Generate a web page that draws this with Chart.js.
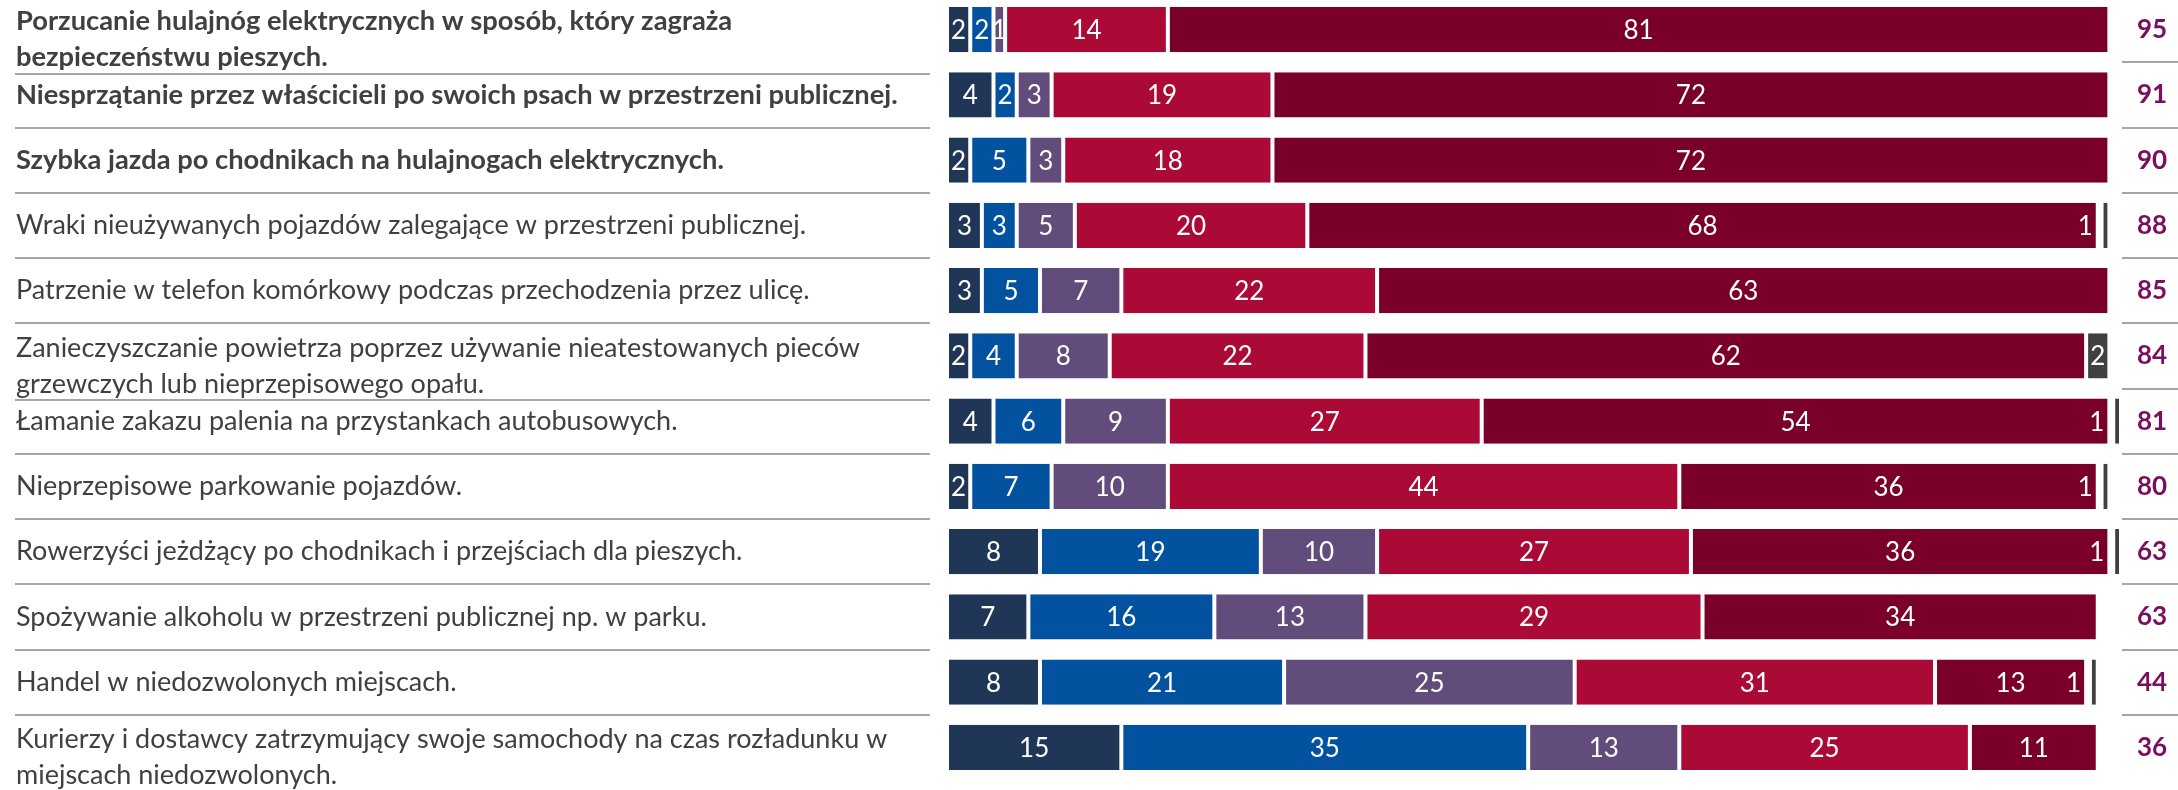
<!DOCTYPE html>
<html>
<head>
<meta charset="utf-8">
<script src="https://cdn.jsdelivr.net/npm/chart.js@4.4.1/dist/chart.umd.min.js"></script>
<style>
  html, body { margin: 0; background: #fff; overflow: hidden; }
  #wrap { position: absolute; left: 0; top: -3px; width: 2178px; height: 793px; }
</style>
</head>
<body>
<div id="wrap"><canvas id="chart"></canvas></div>
<script>
const categories = [
  ['Porzucanie hulajnóg elektrycznych w sposób, który zagraża', 'bezpieczeństwu pieszych.'],
  'Niesprzątanie przez właścicieli po swoich psach w przestrzeni publicznej.',
  'Szybka jazda po chodnikach na hulajnogach elektrycznych.',
  'Wraki nieużywanych pojazdów zalegające w przestrzeni publicznej.',
  'Patrzenie w telefon komórkowy podczas przechodzenia przez ulicę.',
  ['Zanieczyszczanie powietrza poprzez używanie nieatestowanych pieców', 'grzewczych lub nieprzepisowego opału.'],
  'Łamanie zakazu palenia na przystankach autobusowych.',
  'Nieprzepisowe parkowanie pojazdów.',
  'Rowerzyści jeżdżący po chodnikach i przejściach dla pieszych.',
  'Spożywanie alkoholu w przestrzeni publicznej np. w parku.',
  'Handel w niedozwolonych miejscach.',
  ['Kurierzy i dostawcy zatrzymujący swoje samochody na czas rozładunku w', 'miejscach niedozwolonych.'],
]

const navy = [2, 4, 2, 3, 3, 2, 4, 2, 8, 7, 8, 15]
const blue = [2, 2, 5, 3, 5, 4, 6, 7, 19, 16, 21, 35]
const purple = [1, 3, 3, 5, 7, 8, 9, 10, 10, 13, 25, 13]
const red = [14, 19, 18, 20, 22, 22, 27, 44, 27, 29, 31, 25]
const darkRed = [81, 72, 72, 68, 63, 62, 54, 36, 36, 34, 13, 11]
const gray = [0, 0, 0, 1, 0, 2, 1, 1, 1, 0, 1, 0]
const totals = [95, 91, 90, 88, 85, 84, 81, 80, 63, 63, 44, 36]

// first rows are printed in bold
const boldRows = 3
const FONT = 'Lato, "Open Sans", sans-serif'
const LINE = 36

// row texts on the left, plus the grey rules under the labels and the totals
const rowLabels = {
  id: 'rowLabels',
  afterDraw(chart) {
    const { ctx, chartArea } = chart
    const y = chart.scales.y
    ctx.save()
    ctx.fillStyle = '#404040'
    ctx.textBaseline = 'middle'
    ctx.textAlign = 'left'
    ctx.strokeStyle = '#a6a6a6'
    ctx.lineWidth = 2
    categories.forEach((label, i) => {
      const lines = [].concat(label)
      const center = y.getPixelForTick(i)
      const shift = lines.length > 1 ? 10 : 0
      const top = center + shift - ((lines.length - 1) * LINE) / 2
      ctx.font = i < boldRows ? `bold 27.3px ${FONT}` : `27px ${FONT}`
      lines.forEach((t, k) => ctx.fillText(t, 16, top + k * LINE))
      if (i === categories.length - 1) return
      const boundary = (center + y.getPixelForTick(i + 1)) / 2
      const left = Math.round(Math.max(boundary, top + (lines.length - 1) * LINE + 16))
      ctx.beginPath()
      ctx.moveTo(15, left)
      ctx.lineTo(930, left)
      ctx.moveTo(chartArea.right + 1, Math.round(boundary))
      ctx.lineTo(chart.width, Math.round(boundary))
      ctx.stroke()
    })
    ctx.restore()
  },
}

const valueLabels = {
  id: 'valueLabels',
  afterDatasetsDraw(chart) {
    const { ctx } = chart
    ctx.save()
    ctx.font = `26px ${FONT}`
    ctx.fillStyle = '#ffffff'
    ctx.textBaseline = 'middle'
    chart.data.datasets.forEach((ds, di) => {
      chart.getDatasetMeta(di).data.forEach((bar, i) => {
        const v = ds.data[i]
        if (!v) return
        const text = String(v)
        const w = Math.abs(bar.x - bar.base)
        if (ds.labelBefore && ctx.measureText(text).width > w) {
          ctx.textAlign = 'right'
          ctx.fillText(text, Math.min(bar.x, bar.base) - 5, bar.y + 1)
        } else {
          ctx.textAlign = 'center'
          ctx.fillText(text, (bar.x + bar.base) / 2, bar.y + 1)
        }
      })
    })
    ctx.restore()
  },
}

// labels may hang over the row edges, so the axes keep no extra room for them
const noPadding = (s, width) => {
  s.width = width
  s.paddingTop = 0
  s.paddingBottom = 0
}

const series = [
  { data: navy, color: '#1f3657' },
  { data: blue, color: '#03529f' },
  { data: purple, color: '#624c7b' },
  { data: red, color: '#ab0a36' },
  { data: darkRed, color: '#7a0029' },
  { data: gray, color: '#404040', labelBefore: true },
]

new Chart(document.getElementById('chart'), {
  type: 'bar',
  data: {
    labels: categories,
    datasets: series.map((s) => ({
      data: s.data,
      backgroundColor: s.color,
      borderColor: '#ffffff',
      borderWidth: (c) =>
        s.labelBefore && c.raw <= 1
          ? { left: 6, right: 2, top: 0, bottom: 0 }
          : { left: 2, right: 2, top: 0, bottom: 0 },
      borderSkipped: false,
      barPercentage: 0.69,
      categoryPercentage: 1,
      labelBefore: s.labelBefore,
    })),
  },
  options: {
    indexAxis: 'y',
    responsive: true,
    maintainAspectRatio: false,
    animation: false,
    events: [],
    layout: { padding: { left: 16, right: 0, top: 0, bottom: 10 } },
    plugins: {
      legend: { display: false },
      tooltip: { enabled: false },
    },
    scales: {
      x: { stacked: true, min: 0, max: 101, display: false },
      y: {
        stacked: true,
        grid: { display: false, drawTicks: false },
        border: { display: false },
        ticks: { display: false, autoSkip: false },
        afterFit: (s) => noPadding(s, 931),
      },
      y2: {
        type: 'category',
        position: 'right',
        labels: totals.map(String),
        grid: { display: false, drawTicks: false },
        border: { display: false },
        ticks: {
          crossAlign: 'center',
          padding: 16,
          color: '#7b0f5f',
          font: { family: FONT, size: 26, weight: 'bold' },
        },
        afterFit: (s) => noPadding(s, 57),
      },
    },
  },
  plugins: [rowLabels, valueLabels],
})
</script>
</body>
</html>
